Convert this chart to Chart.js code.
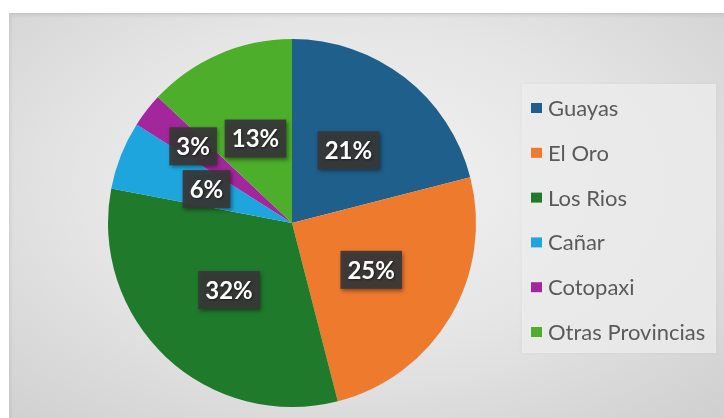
<!DOCTYPE html>
<html>
<head>
<meta charset="utf-8">
<script src="https://cdn.jsdelivr.net/npm/chart.js@4"></script>
<style>
  html, body { margin: 0; padding: 0; background: #ffffff; }
  #wrap { position: relative; width: 724px; height: 418px; overflow: hidden; background: #ffffff; }
  #panel {
    position: absolute; left: 9px; top: 13px; width: 715px; height: 405px;
    background: radial-gradient(ellipse 75% 80% at 48% 42%, #f3f3f3 0%, #e5e5e5 50%, #cfcfcf 100%);
    border-top: 1px solid #c8c8c8;
    box-shadow: inset 2px 2px 3px rgba(0,0,0,0.06);
  }
  #c { position: absolute; left: 0; top: 0; }
</style>
</head>
<body>
<div id="wrap">
  <div id="panel"></div>
  <canvas id="c" width="724" height="418"></canvas>
</div>
<script>
const categories = ["Guayas", "El Oro", "Los Rios", "Cañar", "Cotopaxi", "Otras Provincias"];
const legendLabels = ["Guayas", "El Oro", "Los Rios", "Cañar", "Cotopaxi", "Otras Provincias"];
const values = [21, 25, 32, 6, 3, 13];
const percentLabels = ["21%", "25%", "32%", "6%", "3%", "13%"];
const colors = ["#1f5f8b", "#ee7a2e", "#1f7a2b", "#1fa5de", "#a3269d", "#4dae2b"];

const labelPlugin = {
  id: 'boxLabels',
  afterDatasetsDraw(chart, args, opts) {
    const ctx = chart.ctx;
    const meta = chart.getDatasetMeta(0);
    ctx.save();
    ctx.font = opts.font;
    ctx.textAlign = 'center';
    ctx.textBaseline = 'middle';
    meta.data.forEach((arc, i) => {
      const p = arc.getProps(['x', 'y', 'startAngle', 'endAngle', 'outerRadius'], true);
      const mid = (p.startAngle + p.endAngle) / 2;
      const f = opts.radiusFactor[i];
      const cx = p.x + Math.cos(mid) * p.outerRadius * f;
      const cy = p.y + Math.sin(mid) * p.outerRadius * f;
      const txt = percentLabels[i];
      const w = ctx.measureText(txt).width + opts.padX * 2;
      const h = opts.boxH;
      ctx.shadowColor = 'rgba(0,0,0,0.45)';
      ctx.shadowBlur = 4;
      ctx.shadowOffsetX = 1.5;
      ctx.shadowOffsetY = 2;
      ctx.fillStyle = opts.boxColor;
      ctx.fillRect(cx - w / 2, cy - h / 2, w, h);
      ctx.shadowColor = 'rgba(0,0,0,0.5)';
      ctx.shadowBlur = 2;
      ctx.shadowOffsetX = 1;
      ctx.shadowOffsetY = 1;
      ctx.fillStyle = '#ffffff';
      ctx.fillText(txt, cx, cy + 1);
    });
    ctx.restore();
  }
};

const legendPlugin = {
  id: 'sideLegend',
  afterDraw(chart, args, opts) {
    const ctx = chart.ctx;
    ctx.save();
    ctx.shadowColor = 'rgba(0,0,0,0.06)';
    ctx.shadowBlur = 4;
    ctx.fillStyle = opts.bg;
    ctx.fillRect(opts.x, opts.y, opts.w, opts.h);
    ctx.shadowColor = 'transparent';
    ctx.font = opts.font;
    ctx.textBaseline = 'middle';
    ctx.textAlign = 'left';
    legendLabels.forEach((lbl, i) => {
      const cy = opts.firstY + i * opts.step;
      ctx.fillStyle = colors[i];
      ctx.fillRect(opts.markerX, cy - 5, 11, 10);
      ctx.fillStyle = '#5a5a5a';
      ctx.fillText(lbl, opts.textX, cy + 1);
    });
    ctx.restore();
  }
};

new Chart(document.getElementById('c'), {
  type: 'pie',
  data: {
    labels: categories,
    datasets: [{
      data: values,
      backgroundColor: colors,
      borderWidth: 0
    }]
  },
  options: {
    responsive: false,
    animation: false,
    layout: { padding: { left: 108, right: 248, top: 39, bottom: 11 } },
    plugins: {
      legend: { display: false },
      tooltip: { enabled: false },
      boxLabels: {
        font: 'bold 24px Lato',
        padX: 7,
        boxH: 38,
        boxColor: 'rgba(56,56,56,0.93)',
        radiusFactor: [0.5, 0.5, 0.5, 0.5, 0.68, 0.5]
      },
      sideLegend: {
        x: 522, y: 84, w: 194, h: 269,
        bg: 'rgba(238,238,238,0.8)',
        font: '22px Lato',
        markerX: 531, textX: 548,
        firstY: 108, step: 44.8
      }
    }
  },
  plugins: [labelPlugin, legendPlugin]
});
</script>
</body>
</html>
